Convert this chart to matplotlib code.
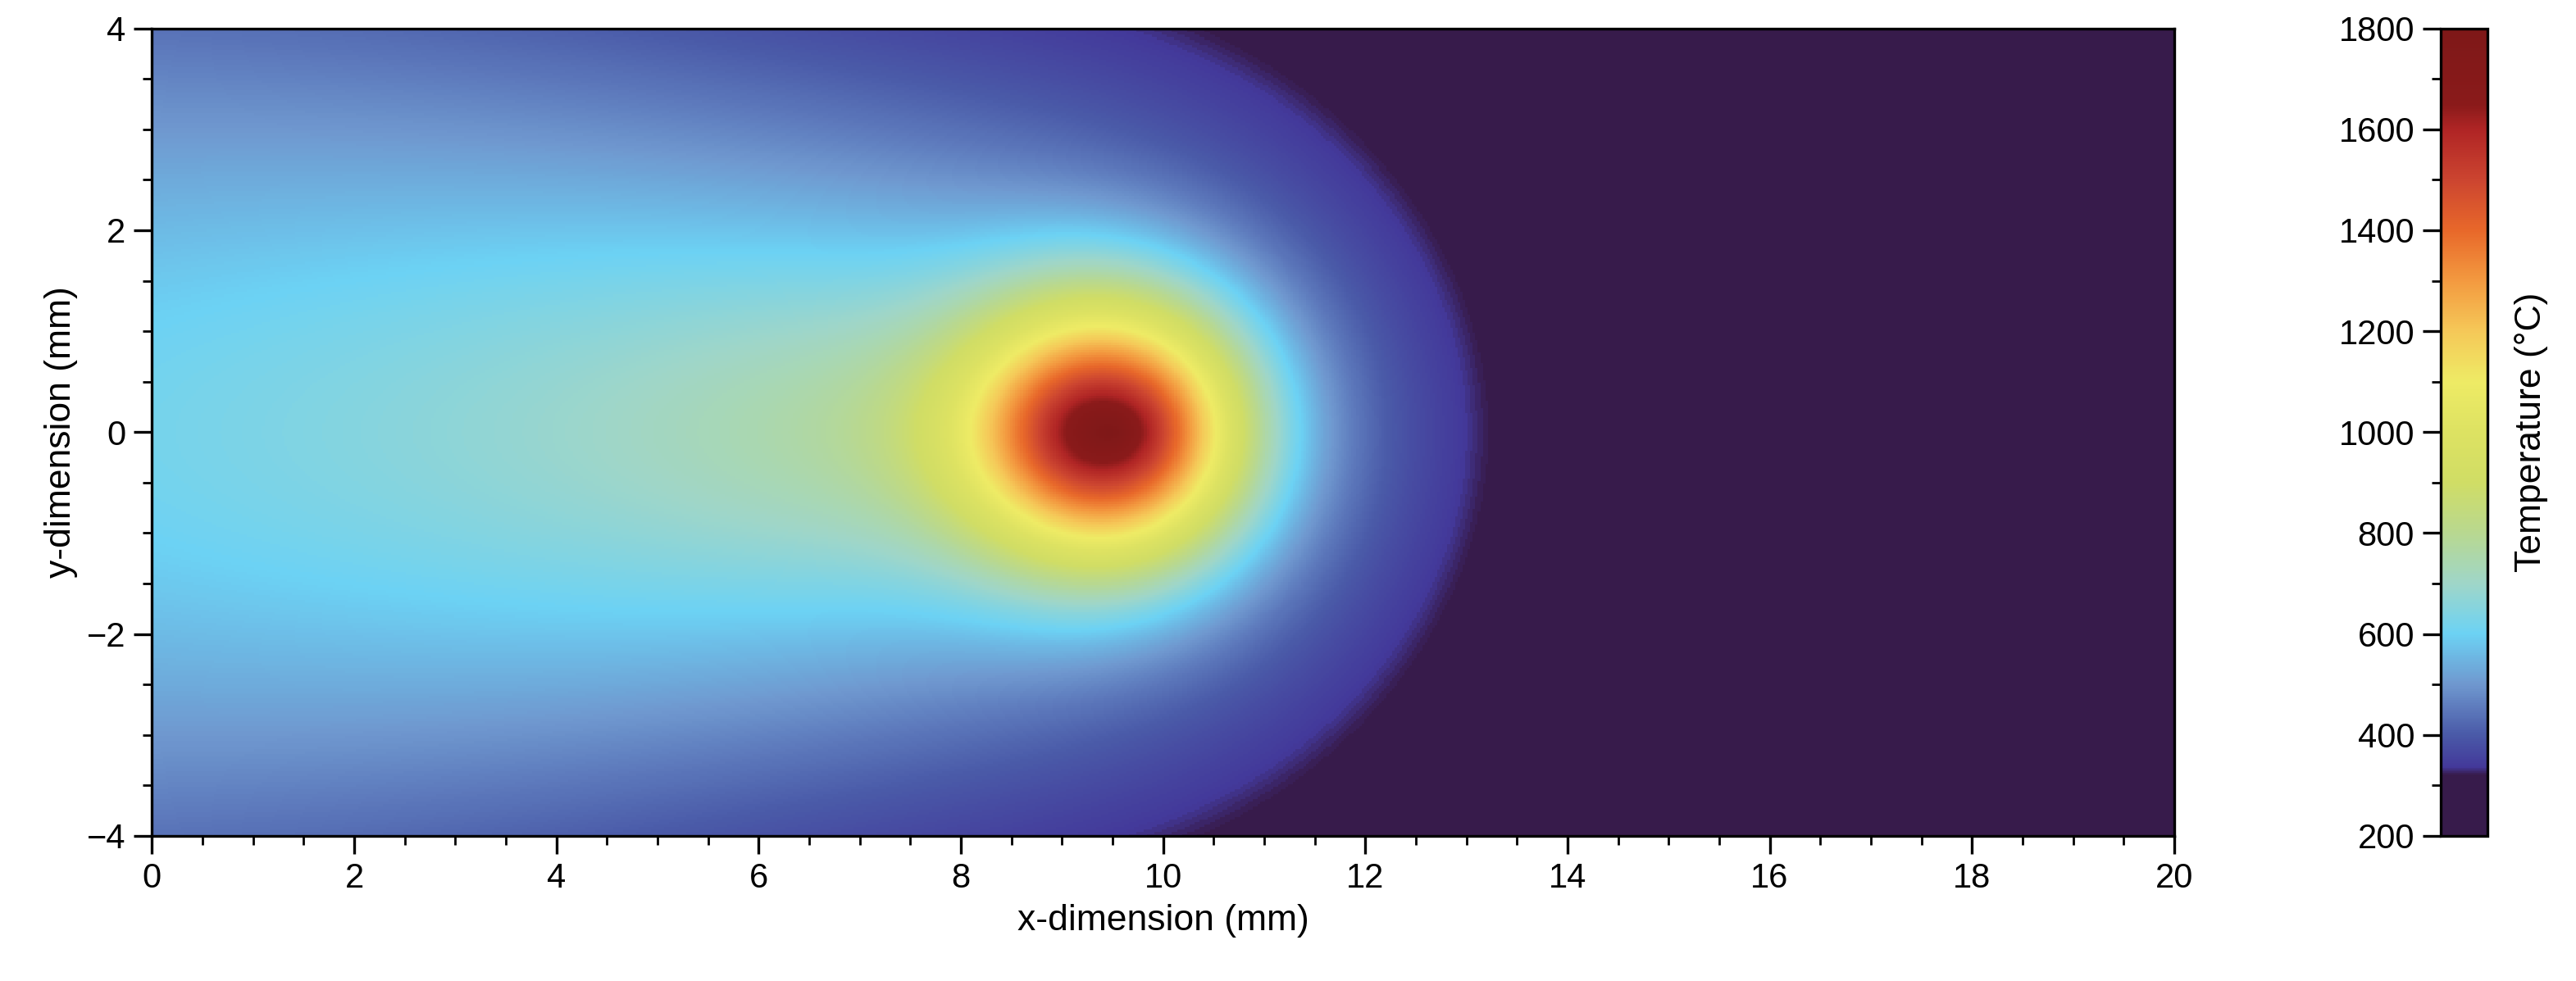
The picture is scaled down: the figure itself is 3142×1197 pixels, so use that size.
import numpy as np
import matplotlib
matplotlib.use("Agg")
import matplotlib.pyplot as plt
from matplotlib.colors import LinearSegmentedColormap
from matplotlib.ticker import MultipleLocator

plt.rcParams['font.family'] = ['Liberation Sans', 'DejaVu Sans']

# Model parameters (moving heat source field)
T0 = 200.0
B = 1150.0
k_decay = 0.2
y_scale_front = 1.3
y_scale_back = 1.8
core_a = 3.0
power = 0.4
core_amp = 850.0
core_w = 1.3
x_src = 9.5
T_max = 1800.0

# Colormap stops (temperature, colour)
cmap_T = [200, 320, 335, 400, 500, 600, 700, 800, 900, 1000, 1100, 1200, 1300, 1400, 1500, 1600, 1650, 1800]
cmap_c = ['#371b4b', '#371b4b', '#43399a', '#4a5aa8', '#6f98cf', '#6cd2f4', '#9fd6c8', '#b8d890',
          '#d0dd65', '#dde262', '#eeeb65', '#f5c858', '#f39a40', '#e8682a', '#cc4530', '#b02525',
          '#8a1a1a', '#7e1818']
cmap = LinearSegmentedColormap.from_list('temp', [((t - 200) / 1600, c) for t, c in zip(cmap_T, cmap_c)], N=512)

x = np.linspace(0, 20, 801)
y = np.linspace(-4, 4, 321)
X, Y = np.meshgrid(x, y)
xi = X - x_src
s = y_scale_front + (y_scale_back - y_scale_front) / (1 + np.exp(xi / 1.5))
R = np.sqrt(xi**2 + (s * Y)**2)
T = T0 + B * np.exp(-k_decay * (xi + R)) / (R + core_a)**power \
    + core_amp * np.exp(-(xi**2 + Y**2) / core_w**2)
T = np.clip(T, 200, T_max)

fig = plt.figure(figsize=(15.71, 5.985), dpi=200)
ax = fig.add_axes([0.059, 0.148, 0.785, 0.823])
im = ax.pcolormesh(X, Y, T, cmap=cmap, vmin=200, vmax=1800, shading='auto', rasterized=True)
ax.set_xlim(0, 20)
ax.set_ylim(-4, 4)
ax.xaxis.set_major_locator(MultipleLocator(2))
ax.xaxis.set_minor_locator(MultipleLocator(0.5))
ax.yaxis.set_major_locator(MultipleLocator(2))
ax.yaxis.set_minor_locator(MultipleLocator(0.5))
ax.tick_params(which='major', length=8, width=1.2, labelsize=15)
ax.tick_params(which='minor', length=4, width=1.0)
ax.set_xlabel('x-dimension (mm)', fontsize=16)
ax.set_ylabel('y-dimension (mm)', fontsize=16)
for sp in ax.spines.values():
    sp.set_linewidth(1.2)

cax = fig.add_axes([0.9475, 0.148, 0.0181, 0.823])
cb = fig.colorbar(im, cax=cax)
cb.set_ticks(np.arange(200, 1801, 200))
cax.yaxis.set_minor_locator(MultipleLocator(100))
cax.yaxis.set_ticks_position('left')
cax.yaxis.set_label_position('right')
cax.tick_params(which='major', length=8, width=1.2, labelsize=15)
cax.tick_params(which='minor', length=4, width=1.0)
cb.set_label('Temperature (°C)', fontsize=16, labelpad=12)
cb.outline.set_linewidth(1.2)

fig.savefig('out.png', dpi=200)
